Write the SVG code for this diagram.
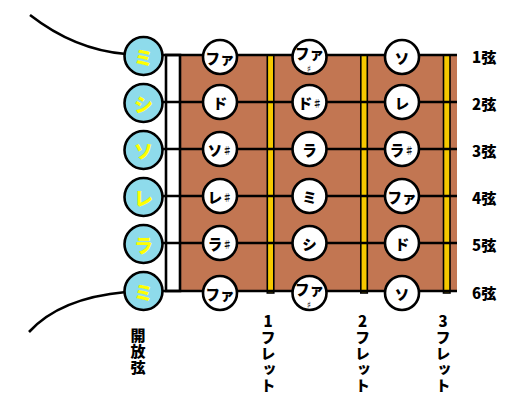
<svg xmlns="http://www.w3.org/2000/svg" width="527" height="406" viewBox="0 0 527 406">
<style>
text{font-family:"Noto Sans CJK JP","Noto Sans",sans-serif;font-weight:900;}
.open circle{fill:#8edbeb;stroke:#000;stroke-width:2.6;}
.open text{fill:#ffff00;font-size:19px;text-anchor:middle;dominant-baseline:central;}
.note circle{fill:#fff;stroke:#000;stroke-width:2.6;}
.note text{fill:#000;font-size:14.5px;text-anchor:middle;dominant-baseline:central;}
.sh{font-size:10px;}
.sh2{font-family:"DejaVu Sans",sans-serif;font-size:9px;}
.str{stroke:#000;stroke-width:2.6;fill:none;}
.lbl{font-size:15px;fill:#000;}
.vlbl{font-size:15px;fill:#000;writing-mode:vertical-rl;text-orientation:upright;letter-spacing:1px;}
</style>
<rect width="527" height="406" fill="#fff"/>
<g id="board">
<rect x="180" y="55" width="277" height="236" fill="#c27652"/>
<rect x="166" y="55" width="14" height="236" fill="#fff" stroke="#000" stroke-width="2.6"/>
</g>
<g id="frets">
<rect x="267.3" y="55" width="6.5" height="238" fill="#f5c800" stroke="#000" stroke-width="1.6"/>
<rect x="360.8" y="55" width="6.5" height="238" fill="#f5c800" stroke="#000" stroke-width="1.6"/>
<rect x="443.5" y="55" width="6.5" height="238" fill="#f5c800" stroke="#000" stroke-width="1.6"/>
</g>
<g id="connectors">
<path class="str" d="M30,15 Q75,50 126,54"/>
<path class="str" d="M29,332 Q60,298 126,292"/>
<line class="str" x1="143" y1="55" x2="457" y2="55"/>
<line class="str" x1="143" y1="102" x2="457" y2="102"/>
<line class="str" x1="143" y1="149" x2="457" y2="149"/>
<line class="str" x1="143" y1="196" x2="457" y2="196"/>
<line class="str" x1="143" y1="243" x2="457" y2="243"/>
<line class="str" x1="143" y1="291" x2="457" y2="291"/>
</g>
<g id="open1" class="open"><circle cx="143.5" cy="56" r="19"/><text x="143.5" y="56">ミ</text></g>
<g id="open2" class="open"><circle cx="143.5" cy="103" r="19"/><text x="143.5" y="103">シ</text></g>
<g id="open3" class="open"><circle cx="143.5" cy="150" r="19"/><text x="143.5" y="150">ソ</text></g>
<g id="open4" class="open"><circle cx="143.5" cy="197" r="19"/><text x="143.5" y="197">レ</text></g>
<g id="open5" class="open"><circle cx="143.5" cy="244" r="19"/><text x="143.5" y="244">ラ</text></g>
<g id="open6" class="open"><circle cx="143.5" cy="291" r="19"/><text x="143.5" y="291">ミ</text></g>

<g id="n1a" class="note"><circle cx="220" cy="57" r="17"/><text x="220" y="57">ファ</text></g>
<g id="n1b" class="note"><circle cx="309.5" cy="57" r="17"/><text><tspan x="309.5" y="51.5">ファ</tspan><tspan class="sh2" x="309" y="69">♯</tspan></text></g>
<g id="n1c" class="note"><circle cx="402" cy="57" r="17"/><text x="402" y="57">ソ</text></g>

<g id="n2a" class="note"><circle cx="220" cy="102" r="17"/><text x="220" y="102">ド</text></g>
<g id="n2b" class="note"><circle cx="309.5" cy="102" r="17"/><text x="310" y="102">ド<tspan class="sh">♯</tspan></text></g>
<g id="n2c" class="note"><circle cx="402" cy="102" r="17"/><text x="402" y="102">レ</text></g>

<g id="n3a" class="note"><circle cx="220" cy="149" r="17"/><text x="220" y="149">ソ<tspan class="sh">♯</tspan></text></g>
<g id="n3b" class="note"><circle cx="309.5" cy="149" r="17"/><text x="309.5" y="149">ラ</text></g>
<g id="n3c" class="note"><circle cx="402" cy="149" r="17"/><text x="402" y="149">ラ<tspan class="sh">♯</tspan></text></g>

<g id="n4a" class="note"><circle cx="220" cy="196" r="17"/><text x="220" y="196">レ<tspan class="sh">♯</tspan></text></g>
<g id="n4b" class="note"><circle cx="309.5" cy="196" r="17"/><text x="309.5" y="196">ミ</text></g>
<g id="n4c" class="note"><circle cx="402" cy="196" r="17"/><text x="402" y="196">ファ</text></g>

<g id="n5a" class="note"><circle cx="220" cy="243" r="17"/><text x="220" y="243">ラ<tspan class="sh">♯</tspan></text></g>
<g id="n5b" class="note"><circle cx="309.5" cy="243" r="17"/><text x="309.5" y="243">シ</text></g>
<g id="n5c" class="note"><circle cx="402" cy="243" r="17"/><text x="402" y="243">ド</text></g>

<g id="n6a" class="note"><circle cx="220" cy="293" r="17"/><text x="220" y="293">ファ</text></g>
<g id="n6b" class="note"><circle cx="309.5" cy="293" r="17"/><text><tspan x="309.5" y="287.5">ファ</tspan><tspan class="sh2" x="309" y="305">♯</tspan></text></g>
<g id="n6c" class="note"><circle cx="402" cy="293" r="17"/><text x="402" y="293">ソ</text></g>

<g id="labels">
<text class="lbl" x="472" y="63">1弦</text>
<text class="lbl" x="472" y="110">2弦</text>
<text class="lbl" x="472" y="157">3弦</text>
<text class="lbl" x="472" y="204">4弦</text>
<text class="lbl" x="472" y="251">5弦</text>
<text class="lbl" x="472" y="299">6弦</text>
</g>
<g id="bottom-labels">
<text class="vlbl" x="138" y="328">開放弦</text>
<text class="vlbl" x="268" y="314">1フレット</text>
<text class="vlbl" x="362.5" y="314">2フレット</text>
<text class="vlbl" x="443" y="314">3フレット</text>
</g>
</svg>
